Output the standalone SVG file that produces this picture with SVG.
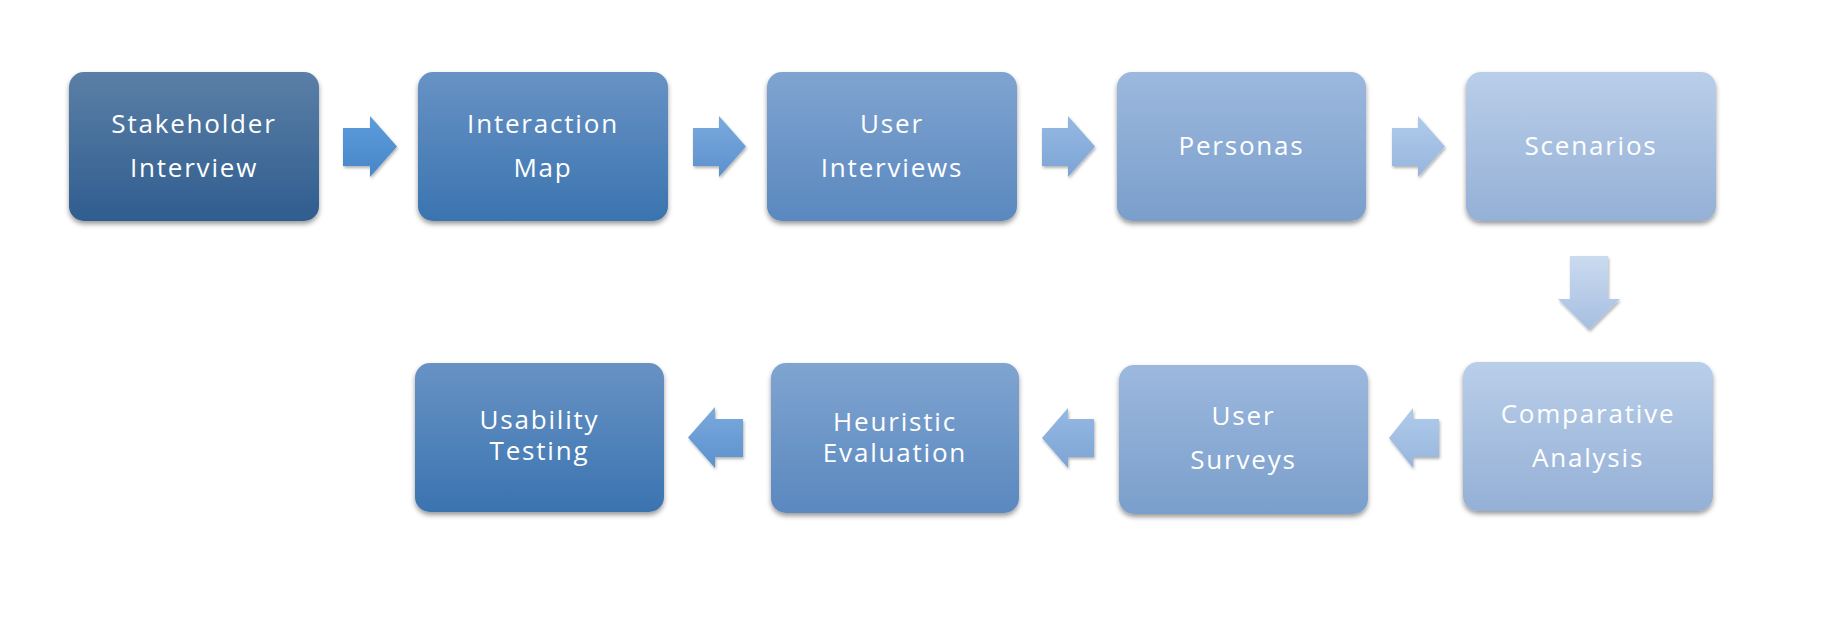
<svg xmlns="http://www.w3.org/2000/svg" width="1833" height="627" viewBox="0 0 1833 627">
<defs>
<filter id="sh" x="-10%" y="-10%" width="120%" height="130%">
<feDropShadow dx="0" dy="3" stdDeviation="2.5" flood-color="#000" flood-opacity="0.4"/>
</filter>
<filter id="ash" x="-20%" y="-20%" width="140%" height="150%">
<feDropShadow dx="1" dy="2" stdDeviation="1.5" flood-color="#000" flood-opacity="0.3"/>
</filter>
<linearGradient id="g1" x1="0" y1="0" x2="0" y2="1"><stop offset="0" stop-color="#5b7fa6"/><stop offset="1" stop-color="#2f5d8f"/></linearGradient>
<linearGradient id="g2" x1="0" y1="0" x2="0" y2="1"><stop offset="0" stop-color="#6892c4"/><stop offset="1" stop-color="#3a74b0"/></linearGradient>
<linearGradient id="g3" x1="0" y1="0" x2="0" y2="1"><stop offset="0" stop-color="#7fa4d0"/><stop offset="1" stop-color="#5a88bf"/></linearGradient>
<linearGradient id="g4" x1="0" y1="0" x2="0" y2="1"><stop offset="0" stop-color="#9cb8de"/><stop offset="1" stop-color="#7a9fcb"/></linearGradient>
<linearGradient id="g5" x1="0" y1="0" x2="0" y2="1"><stop offset="0" stop-color="#b9cee9"/><stop offset="1" stop-color="#95b0d6"/></linearGradient>
<linearGradient id="a1" x1="0" y1="0" x2="0" y2="1"><stop offset="0" stop-color="#5d9cdb"/><stop offset="1" stop-color="#4786c8"/></linearGradient>
<linearGradient id="a2" x1="0" y1="0" x2="0" y2="1"><stop offset="0" stop-color="#7aaadd"/><stop offset="1" stop-color="#5d91cd"/></linearGradient>
<linearGradient id="a3" x1="0" y1="0" x2="0" y2="1"><stop offset="0" stop-color="#96b9e3"/><stop offset="1" stop-color="#7ca4d5"/></linearGradient>
<linearGradient id="a4" x1="0" y1="0" x2="0" y2="1"><stop offset="0" stop-color="#b0cbeb"/><stop offset="1" stop-color="#97b5dd"/></linearGradient>
<linearGradient id="a5" x1="0" y1="0" x2="0" y2="1"><stop offset="0" stop-color="#cbdbf0"/><stop offset="1" stop-color="#a6bee1"/></linearGradient>
</defs>
<style>
.box{filter:url(#sh)}
.arr{filter:url(#ash)}
text{font-family:"Open Sans","DejaVu Sans",sans-serif;font-size:26px;fill:#ffffff;text-anchor:middle;letter-spacing:1.8px}
</style>
<rect width="1833" height="627" fill="#ffffff"/>
<g id="connectors">
<path class="arr" fill="url(#a1)" d="M343,128 H370 V116 L397,146.5 L370,177 V166 H343 Z"/>
<path class="arr" fill="url(#a2)" d="M693,128 H719 V116 L746,146.5 L719,177 V166 H693 Z"/>
<path class="arr" fill="url(#a3)" d="M1042,128 H1068 V116 L1095,146.5 L1068,177 V166 H1042 Z"/>
<path class="arr" fill="url(#a4)" d="M1392,128 H1418 V116 L1445,146.5 L1418,177 V166 H1392 Z"/>
<path class="arr" fill="url(#a5)" d="M1570,256 H1608 V299 H1620 L1589,330 L1558,299 H1570 Z"/>
<path class="arr" fill="url(#a4)" d="M1439,419 H1413 V408 L1389,438 L1413,468 V457 H1439 Z"/>
<path class="arr" fill="url(#a3)" d="M1094,419 H1068 V408 L1042,438 L1068,468 V457 H1094 Z"/>
<path class="arr" fill="url(#a2)" d="M743,419 H715 V407 L688,437.5 L715,468 V457 H743 Z"/>
</g>
<g id="stakeholder-interview">
<rect class="box" x="69" y="72" width="250" height="149" rx="15" fill="url(#g1)"/>
<text x="194" y="133">Stakeholder</text>
<text x="194" y="177">Interview</text>
</g>
<g id="interaction-map">
<rect class="box" x="418" y="72" width="250" height="149" rx="15" fill="url(#g2)"/>
<text x="543" y="133">Interaction</text>
<text x="543" y="177">Map</text>
</g>
<g id="user-interviews">
<rect class="box" x="767" y="72" width="250" height="149" rx="15" fill="url(#g3)"/>
<text x="892" y="133">User</text>
<text x="892" y="177">Interviews</text>
</g>
<g id="personas">
<rect class="box" x="1117" y="72" width="249" height="149" rx="15" fill="url(#g4)"/>
<text x="1241.5" y="155">Personas</text>
</g>
<g id="scenarios">
<rect class="box" x="1466" y="72" width="250" height="149" rx="15" fill="url(#g5)"/>
<text x="1591" y="155">Scenarios</text>
</g>
<g id="comparative-analysis">
<rect class="box" x="1463" y="362" width="250" height="149" rx="15" fill="url(#g5)"/>
<text x="1588" y="423">Comparative</text>
<text x="1588" y="467">Analysis</text>
</g>
<g id="user-surveys">
<rect class="box" x="1119" y="365" width="249" height="149" rx="15" fill="url(#g4)"/>
<text x="1243.5" y="425">User</text>
<text x="1243.5" y="469">Surveys</text>
</g>
<g id="heuristic-evaluation">
<rect class="box" x="771" y="363" width="248" height="150" rx="15" fill="url(#g3)"/>
<text x="895" y="431">Heuristic</text>
<text x="895" y="462">Evaluation</text>
</g>
<g id="usability-testing">
<rect class="box" x="415" y="363" width="249" height="149" rx="15" fill="url(#g2)"/>
<text x="539.5" y="429">Usability</text>
<text x="539.5" y="460">Testing</text>
</g>
</svg>
